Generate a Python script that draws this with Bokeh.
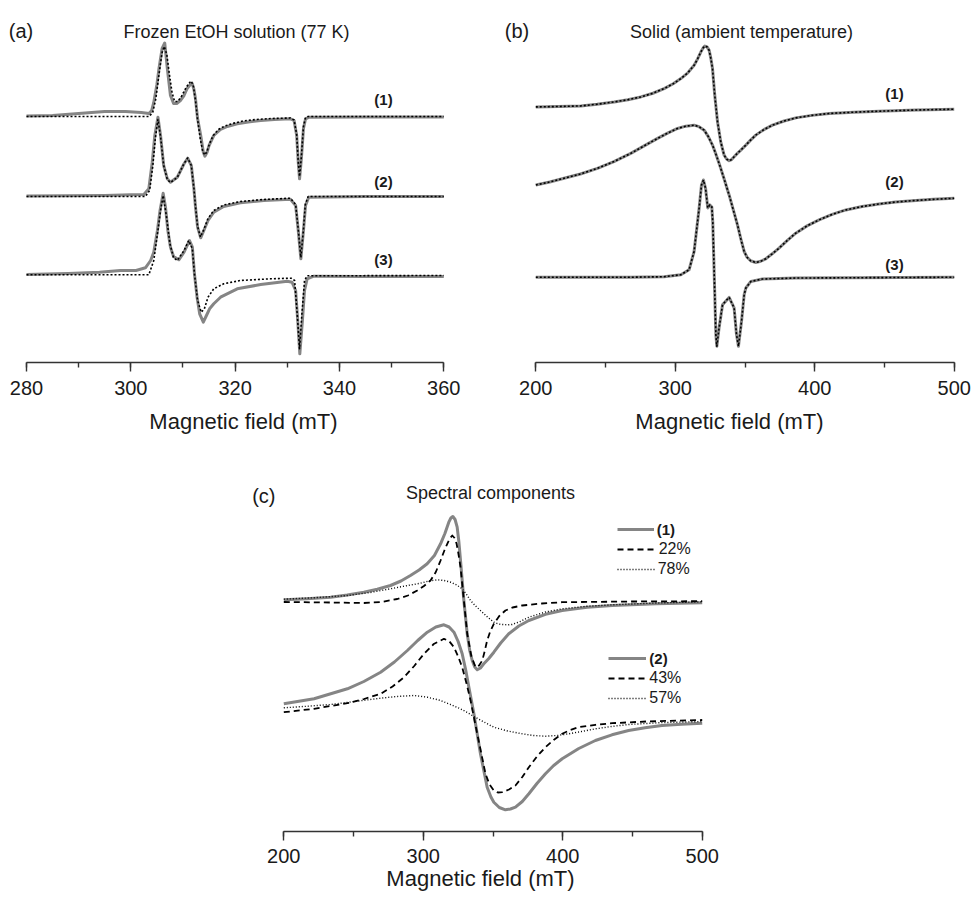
import numpy as np
from bokeh.plotting import figure
from bokeh.layouts import column, row
from bokeh.models import (Range1d, LinearAxis, SingleIntervalTicker, Label,
                          Legend, LegendItem, Spacer)
from bokeh.core.properties import value
from bokeh.embed import file_html
from bokeh.resources import INLINE

FONT = "Liberation Sans"
GRAY = "#858585"
INK = "#1a1a1a"

# ---------------- data (magnetic field in mT, intensity in arbitrary units) -------------
# (a) frozen EtOH solution, 77 K  — experimental (exp) and simulated (sim)
a1_exp_x = [280, 285, 290, 295, 299, 302, 303.5, 304.0, 304.4, 305.0, 305.4, 306.0, 306.5, 307.0,
            307.6, 308.2, 308.8, 309.5, 310.2, 310.8, 311.4, 311.8, 312.1, 312.4, 312.8, 313.4,
            313.9, 314.2, 314.6, 315.0, 315.9, 317.2, 318.5, 320.4, 322.5, 324.9, 327.5, 330.6,
            331.3, 331.8, 332.1, 332.35, 332.7, 333.1, 333.5, 334.2, 345, 360]
a1_exp_y = [0.5, 1, 3, 5, 5, 4, 3, 6, 14, 32, 48, 68, 73.5, 48, 21, 13, 13, 16, 21, 28, 32, 32.7,
            27, 17.7, -2, -19, -35.7, -39.7, -36, -29, -19, -13, -10, -7.3, -5.5, -4, -3, -2.3,
            -4, -19, -45.7, -62.3, -42, -12, -2.3, -0.7, -0.5, -0.5]
a1_sim_x = [280, 300, 303.5, 304.2, 304.8, 305.4, 306.0, 306.4, 306.9, 307.4, 307.9, 308.4, 309.0,
            309.7, 310.4, 311.1, 311.6, 312.0, 312.4, 312.8, 313.3, 313.8, 314.2, 314.6, 315.1,
            315.8, 316.8, 318.0, 319.5, 321.5, 324, 327, 330.6, 331.3, 331.8, 332.1, 332.35,
            332.7, 333.1, 333.5, 334.0, 360]
a1_sim_y = [0, 0, 0, 4, 18, 42, 64, 70, 62, 42, 24, 15, 15, 20, 27, 33, 35.5, 30, 16, -3, -22,
            -35, -38.5, -35, -27, -19, -13, -9.5, -7, -4.5, -3, -2, -1.5, -3.5, -18, -45, -60,
            -40, -10, -1, 0, 0]

a2_exp_x = [280, 295, 300, 302.5, 303.45, 304.1, 304.6, 305.2, 305.7, 306.3, 307.0, 307.6, 308.9,
            310.2, 310.9, 311.6, 312.1, 312.4, 312.8, 313.4, 314.0, 314.8, 315.9, 317.8, 321.0,
            325.5, 330.6, 331.6, 332.1, 332.6, 333.1, 333.5, 334.1, 345, 360]
a2_exp_y = [0.5, 1, 1.7, 2, 7.7, 34, 61, 79.3, 61, 31, 17.7, 14.3, 19.3, 32.7, 38.3, 31, 7.7,
            -10.7, -30.7, -41.3, -34, -24, -15.7, -10, -6.3, -4, -2.7, -9, -34, -62.3, -34, -9,
            -0.7, 0, 0]
a2_sim_x = [280, 300, 302.8, 303.6, 304.2, 304.7, 305.2, 305.7, 306.3, 307.0, 307.6, 308.9, 310.2,
            310.9, 311.6, 312.1, 312.4, 312.8, 313.35, 314.0, 314.8, 315.9, 317.8, 321.0, 325.5,
            330.6, 331.6, 332.1, 332.6, 333.1, 333.45, 334.0, 360]
a2_sim_y = [0, 0, 0, 6, 30, 58, 77, 60, 31, 17, 14, 19, 33, 38.5, 31, 8, -10, -30, -40.5, -33,
            -22, -14, -8.5, -5, -3, -1.7, -8, -33, -61, -33, -8, 0, 0]

a3_exp_x = [280, 288, 294, 298, 301, 302.8, 303.8, 304.4, 305.1, 305.6, 306.2, 306.65, 307.1,
            307.6, 308.2, 309.2, 310.2, 311.25, 311.8, 312.2, 312.7, 313.2, 313.9, 314.5, 315.1,
            315.9, 317.2, 320.4, 324.9, 330.0, 330.9, 331.6, 332.0, 332.4, 332.9, 333.3, 333.8,
            335.1, 345, 360]
a3_exp_y = [2, 3, 4.3, 6, 6, 8.7, 16, 24.3, 46, 66, 83.3, 69.3, 46, 29.3, 20, 16.7, 24.3, 36,
            29.3, 2.7, -20.7, -37.3, -45.7, -39, -32.3, -27.3, -20.7, -12.3, -8, -4.7, -5.7, -14,
            -44, -77.3, -44, -14, -2.3, 0.3, 0, 0]
a3_sim_x = [280, 303.45, 304.4, 305.2, 305.7, 306.2, 306.85, 307.5, 308.2, 308.9, 310.2, 311.1,
            311.8, 312.2, 312.8, 313.5, 314.1, 314.8, 315.9, 317.8, 321.0, 326.8, 330.75, 331.4,
            331.9, 332.35, 332.8, 333.3, 333.8, 360]
a3_sim_y = [1.7, 1.7, 16, 46, 66, 81, 59.3, 32.7, 18.7, 16, 26, 36, 27.7, 2.7, -24, -35.7, -32.3,
            -20.7, -12.3, -7.3, -4, -2.3, -1.7, -4, -37.3, -72.3, -37.3, -4, 0.7, 1]

# (b) solid, ambient temperature (simulation coincides with experiment)
b1_x = [200, 216, 232.3, 244, 256.2, 266, 275.3, 284, 292, 298.5, 304, 309, 313.5, 316, 318.3,
        320, 321.2, 322.8, 324.3, 325.5, 326.7, 328.3, 330.3, 332.6, 335, 336.8, 338.6, 340.4,
        342.2, 344.5, 347, 350.6, 354, 357.7, 363.5, 369.7, 378, 386.4, 398, 410.3, 428, 446.1,
        473, 500]
b1_y = [1.3, 1.7, 2.3, 4, 6.3, 8.5, 11.3, 15, 19.7, 24.5, 29.7, 35.5, 43, 49.5, 56.3, 60.5,
        62.3, 61.5, 58, 50, 39.7, 13, -13.7, -33.7, -47, -51, -52.7, -51.5, -48.7, -45.3, -42,
        -37, -32, -27, -21.5, -17, -12.8, -9.7, -7.2, -5.3, -4, -3, -1.8, -1]
b2_x = [200, 210, 220.3, 232, 244.2, 256, 268.1, 278, 287.3, 294.5, 301.6, 307.5, 313.5, 317,
        320.7, 323.7, 326.7, 329.6, 332.6, 335.6, 338.6, 341.6, 344.6, 347, 349.4, 351.5, 354,
        357.7, 361.3, 364.9, 369.5, 374.4, 380.4, 386.4, 394.5, 403.1, 412.5, 422.3, 434, 446.1,
        458, 470.1, 485, 500]
b2_y = [6, 9, 12.7, 17, 22.7, 29.5, 37.7, 45.5, 52.7, 58, 62.7, 65, 66, 64.5, 61, 54.5, 46, 35,
        22.7, 9.5, -4, -19, -34, -48, -60.7, -66.5, -70, -71.7, -70.5, -68, -63, -57.3, -49.5,
        -42.3, -35, -29, -23.5, -19, -15.6, -13, -11.1, -9.7, -8.4, -7.3]
b3_x = [200, 268.1, 292.0, 304.0, 309.9, 313.5, 317.1, 318.8, 320.2, 321.7, 323.3, 324.8, 326.2,
        326.9, 327.8, 329.1, 329.8, 331.4, 333.9, 338.6, 342.2, 343.9, 345.3, 347.5, 349.4,
        350.6, 354.2, 362.5, 386.4, 500]
b3_y = [0, 0, 0.5, 2.5, 7.5, 25.8, 69.2, 92.5, 97.5, 89.2, 69.5, 72.5, 70.5, 55, 9.2, -57.5,
        -69.2, -50.8, -27.5, -20.2, -30.8, -57.5, -69.2, -44.2, -17.5, -10.8, -4.2, -1.8, -0.8, 0]

# (c) spectral components
c1_x = [200, 216.5, 233.5, 245.5, 257.4, 267, 276.5, 284, 290.8, 297, 302.8, 308, 312.4, 315.5,
        318.3, 319.8, 321.2, 322.8, 324.3, 325.5, 326.7, 329.1, 331.5, 333.3, 335.1, 336.9,
        338.7, 341, 343.4, 347, 350.6, 355.5, 361.3, 368.5, 375.7, 387.6, 399.6, 417.5, 435.5,
        467, 500]
c1_y = [1.7, 2.8, 4.3, 6.5, 9.3, 12.3, 16, 20.5, 26, 31.5, 37.7, 46, 57.7, 68, 79.3, 83.5, 85,
        82, 74.3, 60, 41, 1, -32.3, -49, -59, -65.5, -68.3, -66.5, -62.3, -57, -50.7, -41.5,
        -32.3, -24.5, -19, -12.8, -9, -5.8, -4, -2.3, -1.3]
c1_22_x = [200, 233.5, 257.4, 270, 281.4, 289, 295.7, 300.5, 305.2, 309, 312.4, 315, 317.2, 319,
           320.8, 322.4, 323.9, 325.3, 326.7, 329.1, 331.5, 334.5, 337.5, 340, 342.3, 344, 345.8,
           348, 350.6, 354.5, 358.9, 364, 370.9, 385, 399.6, 450, 500]
c1_22_y = [-0.5, -1, -1.5, -0.5, 2.5, 6, 11, 15.5, 21, 29.5, 41, 50.5, 57.7, 63, 66, 63.5, 57.7,
           47, 34.3, 1, -32.3, -55, -65.7, -64, -59, -50, -39, -30, -22.3, -14.5, -9, -6, -4, -2,
           -0.7, 0, 0.3]
c1_78_x = [200, 222, 245.6, 262, 276.5, 288, 298.1, 304, 310, 315, 319.6, 324, 327.9, 331, 333.9,
           337.5, 341, 346, 350.6, 354, 357, 360.5, 363.7, 369.5, 375.7, 387.6, 399.6, 417, 435.5,
           467, 500]
c1_78_y = [2.3, 3.8, 6, 9, 12.7, 15.8, 18.3, 20.5, 21.7, 21, 19.3, 16.5, 12.7, 7, 1, -4.5, -9,
           -15.5, -20.7, -22.5, -23, -23.3, -23, -20, -15.7, -10.5, -7.3, -4.8, -3.3, -1.5, -0.3]

c2_x = [200, 221.7, 245.6, 257.4, 269.4, 279.3, 288.6, 296, 302.9, 309, 314.8, 318.5, 322.0, 325,
        327.9, 330.5, 332.7, 336.3, 341.0, 345.8, 348.5, 350.6, 354.5, 358.9, 362.5, 366.1, 371,
        375.7, 381.5, 387.6, 393.5, 399.6, 411.5, 423.4, 435.3, 447.2, 459, 471.1, 485, 500]
c2_y = [10.7, 15.7, 25.7, 33, 42.3, 52.5, 64, 74, 82.3, 87.5, 89.7, 87.5, 82.3, 73, 60.7, 44,
        27.3, 0.7, -39.3, -72.7, -82.5, -87.7, -93, -95.3, -94.5, -92.7, -87, -79.3, -69, -59.3,
        -51, -44.3, -34, -26, -20.3, -16, -13.2, -11, -9.7, -8.7]
c2_43_x = [200, 221.7, 245.6, 257.5, 269.4, 278, 286.2, 293.5, 300.5, 307.5, 314.8, 318.5, 322.0,
           325, 327.9, 331, 333.9, 338.7, 344.6, 347.5, 350.6, 353.5, 356.6, 361.5, 366.1, 371,
           375.7, 381.5, 387.6, 393.5, 399.6, 405.5, 411.4, 423.4, 435.5, 460, 500]
c2_43_y = [2.3, 5.7, 11.3, 15.5, 20.7, 28, 37.3, 48.5, 60.7, 70.5, 75.7, 73.5, 67.3, 58, 47.3,
           31, 14, -19.3, -59.3, -70, -76, -78, -77.7, -75, -71, -62.5, -52.7, -42, -32.7, -25.5,
           -19.3, -15.5, -12.7, -10.3, -8.7, -7, -5.5]
c2_57_x = [200, 216, 233.7, 251, 269.4, 281, 293.3, 303, 312.4, 319.5, 326.7, 331.5, 336.3, 343.5,
           350.6, 360.5, 370.9, 379, 387.6, 396, 404.3, 413.5, 423.4, 435, 447.2, 470, 500]
c2_57_y = [6.7, 8.2, 10, 13, 16.3, 18, 19, 17.3, 14, 10, 5.7, 2, -2, -7.5, -12.7, -16.5, -19.3,
           -21, -21.7, -21, -19.3, -17, -14.3, -12, -10, -8.2, -7]

trace_labels = ["(1)", "(2)", "(3)"]
legend1_labels = ["(1)", "22%", "78%"]
legend2_labels = ["(2)", "43%", "57%"]


def make_fig(width, height, xr, yr, bottom, interval, bounds, label_standoff=9, title_standoff=11):
    p = figure(width=width, height=height, x_range=Range1d(*xr), y_range=Range1d(*yr),
               output_backend="svg", toolbar_location=None,
               x_axis_location=None, y_axis_location=None,
               min_border_left=0, min_border_right=0, min_border_top=0,
               min_border_bottom=bottom)
    p.outline_line_color = None
    p.xgrid.grid_line_color = None
    p.ygrid.grid_line_color = None
    ax = LinearAxis(ticker=SingleIntervalTicker(interval=interval, num_minor_ticks=2),
                    bounds=bounds, axis_label="Magnetic field (mT)")
    ax.axis_line_color = "#333333"
    ax.axis_line_width = 1.4
    ax.major_tick_line_color = "#333333"
    ax.major_tick_line_width = 1.4
    ax.minor_tick_line_color = "#333333"
    ax.minor_tick_line_width = 1.4
    ax.major_tick_in = 0
    ax.major_tick_out = 9
    ax.minor_tick_in = 0
    ax.minor_tick_out = 5
    ax.major_label_standoff = label_standoff
    ax.major_label_text_font = FONT
    ax.major_label_text_font_size = "20px"
    ax.major_label_text_color = INK
    ax.axis_label_text_font = FONT
    ax.axis_label_text_font_size = "22px"
    ax.axis_label_text_font_style = "normal"
    ax.axis_label_text_color = INK
    ax.axis_label_standoff = title_standoff
    p.add_layout(ax, "below")
    return p


def label(p, x, y, text, size, align="center", bold=False):
    p.add_layout(Label(x=x, y=y, text=text, text_font=FONT, text_font_size=size,
                       text_align=align, text_baseline="alphabetic", text_color=INK,
                       text_font_style="bold" if bold else "normal"))


def exp_line(p, x, y, off):
    return p.line(np.array(x), np.array(y) + off, line_color=GRAY, line_width=3,
                  line_join="round")


def sim_line(p, x, y, off, dash="2 2", width=1.6):
    return p.line(np.array(x), np.array(y) + off, line_color="black", line_width=width,
                  line_dash=dash, line_join="round")


# ---------------- panel (a) ----------------
pa = make_fig(486, 440, (275.015, 368.19), (0, 362), 78, 20, (280, 360))
for (ex, ey, sx, sy, off) in [(a1_exp_x, a1_exp_y, a1_sim_x, a1_sim_y, 246),
                              (a2_exp_x, a2_exp_y, a2_sim_x, a2_sim_y, 166),
                              (a3_exp_x, a3_exp_y, a3_sim_x, a3_sim_y, 86)]:
    exp_line(pa, ex, ey, off)
    sim_line(pa, sx, sy, off)
label(pa, 276.6, 332, "(a)", "20px", align="left")
label(pa, 320.26, 331, "Frozen EtOH solution (77 K)", "18px")
for t, yy in zip(trace_labels, [263.5, 180.9, 103.5]):
    label(pa, 348.44, yy, t, "15px", bold=True)

# ---------------- panel (b) ----------------
pb = make_fig(486, 440, (164.65, 513.11), (0, 363), 77, 100, (200, 500))
for (x, y, off) in [(b1_x, b1_y, 255), (b2_x, b2_y, 172), (b3_x, b3_y, 85.5)]:
    exp_line(pb, x, y, off)
    sim_line(pb, x, y, off)
label(pb, 177.77, 332, "(b)", "20px", align="left")
label(pb, 347.5, 331, "Solid (ambient temperature)", "18px")
for t, yy in zip(trace_labels, [269.5, 181.9, 97.9]):
    label(pb, 457.2, yy, t, "15px", bold=True)

# ---------------- panel (c) ----------------
pc = make_fig(480, 457, (168.95, 513.11), (0, 391), 66, 100, (200, 500),
              label_standoff=8, title_standoff=0)
r1 = exp_line(pc, c1_x, c1_y, 230)
r1d = sim_line(pc, c1_22_x, c1_22_y, 230, dash="6 4", width=1.8)
r1o = sim_line(pc, c1_78_x, c1_78_y, 230, dash="1 2", width=1.4)
r2 = exp_line(pc, c2_x, c2_y, 117)
r2d = sim_line(pc, c2_43_x, c2_43_y, 117, dash="6 4", width=1.8)
r2o = sim_line(pc, c2_57_x, c2_57_y, 117, dash="1 2", width=1.4)
label(pc, 177.34, 335.9, "(c)", "20px", align="left")
label(pc, 348.2, 338.1, "Spectral components", "18px")


def add_leg(p, r, text, x, y, gw, standoff, bold):
    leg = Legend(items=[LegendItem(label=value(text), renderers=[r])], location=(x, y),
                 orientation="vertical", glyph_width=gw, glyph_height=20, label_height=20,
                 label_width=10, label_standoff=standoff, padding=0, margin=0, spacing=0,
                 border_line_color=None, background_fill_alpha=0,
                 label_text_font=FONT, label_text_font_size="15px" if bold else "16px",
                 label_text_font_style="bold" if bold else "normal",
                 label_text_color=INK)
    p.add_layout(leg)


for r, t, yy, gw, so, b in zip([r1, r1d, r1o], legend1_labels, [291.7, 271.7, 252],
                               [37, 40, 38], [3, 2, 3], [True, False, False]):
    add_leg(pc, r, t, 376.7, yy, gw, so, b)
for r, t, yy, gw, so, b in zip([r2, r2d, r2o], legend2_labels, [162.7, 142.7, 122.7],
                               [38, 40, 38], [3, 1, 3], [True, False, False]):
    add_leg(pc, r, t, 368.3, yy, gw, so, b)

layout = column(row(pa, pb), row(Spacer(width=240, height=457), pc))
open("out.html", "w").write(file_html(layout, INLINE))
